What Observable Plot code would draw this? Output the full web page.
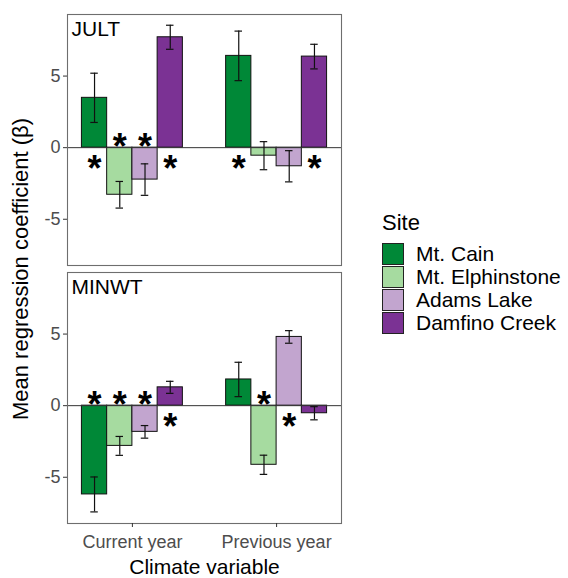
<!DOCTYPE html>
<html>
<head>
<meta charset="utf-8">
<script src="https://cdn.jsdelivr.net/npm/d3@7"></script>
<script src="https://cdn.jsdelivr.net/npm/@observablehq/plot@0.6"></script>
<style>
  html, body { margin: 0; padding: 0; background: #fff; }
  #chart { position: relative; width: 568px; height: 578px; font-family: "Liberation Sans", Arial, sans-serif; }
  #legend { position: absolute; left: 382px; top: 212px; color: #000; }
  #legend .title { font-size: 22px; line-height: 22px; height: 30px; }
  #legend .row { display: flex; align-items: center; height: 23px; }
  #legend .swatch { width: 20px; height: 20px; border: 1px solid #222; box-sizing: content-box; margin-right: 12px; }
  #legend .label { font-size: 21px; line-height: 21px; }
</style>
</head>
<body>
<div id="chart"></div>
<script>
// Climate variables (panels), time periods (groups) and sites (bars)
const variables = ["JULT", "MINWT"];
const periods = ["Current year", "Previous year"];
const sites = ["Mt. Cain", "Mt. Elphinstone", "Adams Lake", "Damfino Creek"];
const siteColors = ["#008837", "#a6dba0", "#c2a5cf", "#7b3294"];
const yTicks = [-5, 0, 5];

// Mean regression coefficients, in site order
const jultCurrent = [3.48, -3.29, -2.23, 7.71];
const jultPrevious = [6.41, -0.56, -1.30, 6.36];
const minwtCurrent = [-6.20, -2.81, -1.83, 1.28];
const minwtPrevious = [1.83, -4.13, 4.80, -0.53];

// Standard errors, in site order
const jultCurrentSE = [1.72, 0.93, 1.10, 0.84];
const jultPreviousSE = [1.73, 0.98, 1.09, 0.86];
const minwtCurrentSE = [1.22, 0.66, 0.44, 0.42];
const minwtPreviousSE = [1.20, 0.67, 0.44, 0.46];

// Significant coefficients (marked with an asterisk)
const jultCurrentSig = [true, true, true, true];
const jultPreviousSig = [true, false, false, true];
const minwtCurrentSig = [true, true, true, true];
const minwtPreviousSig = [false, true, true, false];

// Long-format table built from the arrays above
const series = [
  ["JULT", "Current year", jultCurrent, jultCurrentSE, jultCurrentSig],
  ["JULT", "Previous year", jultPrevious, jultPreviousSE, jultPreviousSig],
  ["MINWT", "Current year", minwtCurrent, minwtCurrentSE, minwtCurrentSig],
  ["MINWT", "Previous year", minwtPrevious, minwtPreviousSE, minwtPreviousSig]
];
const barWidth = 0.175;   // dodge width of one bar, in group units
const capHalf = 0.026;    // half width of the error-bar caps
const rows = [];
for (const [variable, period, betas, ses, sigs] of series) {
  const g = periods.indexOf(period) + 1;
  sites.forEach((site, i) => {
    const x1 = g + (i - 2) * barWidth;
    rows.push({
      variable, period, site,
      beta: betas[i], se: ses[i], sig: sigs[i],
      x1, x2: x1 + barWidth, xc: x1 + barWidth / 2,
      lo: betas[i] - ses[i], hi: betas[i] + ses[i]
    });
  });
}
const sigAbove = rows.filter(d => d.sig && d.beta < 0);
const sigBelow = rows.filter(d => d.sig && d.beta >= 0);
const panelLabels = variables.map(v => ({variable: v}));

const font = '"Liberation Sans", Arial, sans-serif';

const chart = Plot.plot({
  width: 568,
  height: 578,
  marginLeft: 67,
  marginRight: 227,
  marginTop: 13,
  marginBottom: 55,
  style: {fontFamily: font, background: "#fff", overflow: "visible"},
  x: {domain: [0.55, 2.45]},
  y: {domain: [-8.23, 9.3]},
  fy: {domain: variables, paddingInner: 0.028, paddingOuter: 0, axis: null},
  color: {domain: sites, range: siteColors},
  marks: [
    Plot.rect(rows, {x1: "x1", x2: "x2", y1: 0, y2: "beta", fy: "variable", fill: "site", stroke: "#111", strokeWidth: 1}),
    Plot.ruleY([0], {stroke: "#333", strokeWidth: 1}),
    Plot.ruleX(rows, {x: "xc", y1: "lo", y2: "hi", fy: "variable", stroke: "#111", strokeWidth: 1.2}),
    Plot.ruleY(rows, {y: "lo", x1: d => d.xc - capHalf, x2: d => d.xc + capHalf, fy: "variable", stroke: "#111", strokeWidth: 1.2}),
    Plot.ruleY(rows, {y: "hi", x1: d => d.xc - capHalf, x2: d => d.xc + capHalf, fy: "variable", stroke: "#111", strokeWidth: 1.2}),
    Plot.text(sigAbove, {x: "xc", y: 0, fy: "variable", text: () => "*", fontSize: 36, fontWeight: "bold", fill: "#000", lineAnchor: "middle", dy: 0}),
    Plot.text(sigBelow, {x: "xc", y: 0, fy: "variable", text: () => "*", fontSize: 36, fontWeight: "bold", fill: "#000", lineAnchor: "middle", dy: 22}),
    Plot.text(panelLabels, {fy: "variable", text: "variable", frameAnchor: "top-left", dx: 4, dy: 7, fontSize: 21, fill: "#000", textAnchor: "start", lineAnchor: "top"}),
    Plot.frame({stroke: "#6e6e6e", strokeWidth: 1.1}),
    Plot.axisY({ticks: yTicks, tickFormat: d => String(d), tickSize: 4, tickPadding: 3, fontSize: 18, fill: "#4d4d4d", stroke: "#333", label: null}),
    Plot.axisX({ticks: [1, 2], tickFormat: i => periods[i - 1], tickSize: 4, tickPadding: 8, fontSize: 18, fill: "#4d4d4d", stroke: "#333", label: null}),
    Plot.text(["Mean regression coefficient (β)"], {facet: "super", frameAnchor: "left", textAnchor: "middle", lineAnchor: "middle", rotate: -90, dx: -47, fontSize: 22, fill: "#000"}),
    Plot.text(["Climate variable"], {facet: "super", frameAnchor: "bottom", textAnchor: "middle", lineAnchor: "middle", dy: 44, fontSize: 21, fill: "#000"})
  ]
});

const root = document.getElementById("chart");
root.appendChild(chart);

// Site legend, built from the same site names and colours
const legend = document.createElement("div");
legend.id = "legend";
const title = document.createElement("div");
title.className = "title";
title.textContent = "Site";
legend.appendChild(title);
sites.forEach((s, i) => {
  const row = document.createElement("div");
  row.className = "row";
  const sw = document.createElement("div");
  sw.className = "swatch";
  sw.style.background = siteColors[i];
  const lab = document.createElement("span");
  lab.className = "label";
  lab.textContent = s;
  row.appendChild(sw);
  row.appendChild(lab);
  legend.appendChild(row);
});
root.appendChild(legend);
</script>
</body>
</html>
